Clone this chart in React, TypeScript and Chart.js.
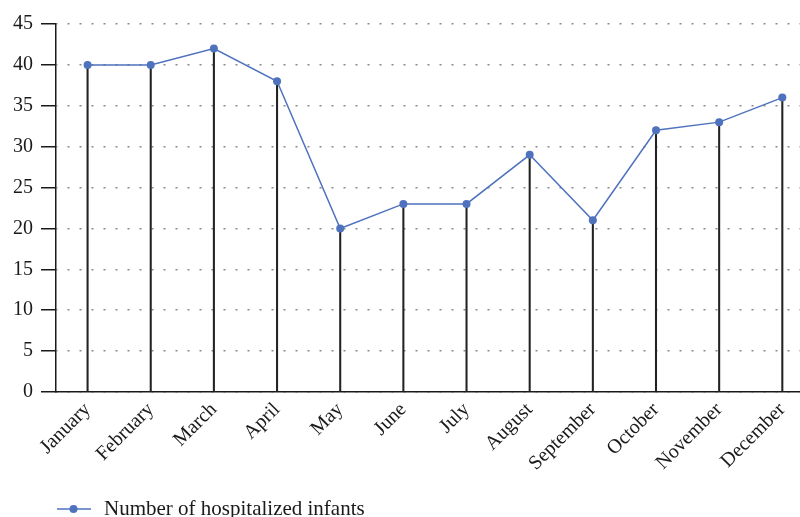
import React, { useEffect, useRef } from "react";
import { Chart, registerables } from "chart.js";

Chart.register(...registerables);

const months = [
  "January",
  "February",
  "March",
  "April",
  "May",
  "June",
  "July",
  "August",
  "September",
  "October",
  "November",
  "December",
];
const infants = [40, 40, 42, 38, 20, 23, 23, 29, 21, 32, 33, 36];
const yTicks = [0, 5, 10, 15, 20, 25, 30, 35, 40, 45];
const seriesLabel = "Number of hospitalized infants";

const FONT = "'Liberation Serif', 'DejaVu Serif', serif";
const BLUE = "#4f72be";
const INK = "#1a1a1a";

export default function App() {
  const ref = useRef<HTMLCanvasElement | null>(null);

  useEffect(() => {
    document.body.style.margin = "0";
    const canvas = ref.current;
    if (!canvas) return;

    const legendPlugin = {
      id: "lineLegend",
      afterDraw(chart: any) {
        const ctx = chart.ctx as CanvasRenderingContext2D;
        const ds = chart.data.datasets[0];
        const y = 509;
        ctx.save();
        ctx.strokeStyle = BLUE;
        ctx.lineWidth = 1.5;
        ctx.beginPath();
        ctx.moveTo(57, y);
        ctx.lineTo(91, y);
        ctx.stroke();
        ctx.fillStyle = BLUE;
        ctx.beginPath();
        ctx.arc(73.5, y, 4, 0, Math.PI * 2);
        ctx.fill();
        ctx.fillStyle = INK;
        ctx.font = `21px ${FONT}`;
        ctx.textBaseline = "alphabetic";
        ctx.textAlign = "left";
        ctx.fillText(ds.label, 104, 515);
        ctx.restore();
      },
    };

    const points = infants.map((v, i) => ({ x: i, y: v }));

    const chart = new Chart(canvas, {
      type: "line",
      data: {
        datasets: [
          {
            type: "line",
            label: seriesLabel,
            data: points,
            borderColor: BLUE,
            backgroundColor: BLUE,
            borderWidth: 1.5,
            pointRadius: 4,
            pointBackgroundColor: BLUE,
            pointBorderWidth: 0,
            order: 1,
          } as any,
          {
            type: "bar",
            label: "drop",
            data: points,
            backgroundColor: "#222",
            barThickness: 1.4,
            order: 2,
          } as any,
        ],
      },
      options: {
        animation: false,
        responsive: true,
        maintainAspectRatio: false,
        layout: { autoPadding: false, padding: { top: 24, left: 0, right: 0, bottom: 30 } },
        plugins: {
          legend: { display: false },
          tooltip: { enabled: false },
        },
        scales: {
          x: {
            type: "linear",
            min: -0.5,
            max: 11.28,
            offset: false,
            afterBuildTicks: (s: any) => {
              s.ticks = months.map((_, i) => ({ value: i }));
            },
            afterFit: (s: any) => {
              s.height = 95;
              s.paddingLeft = 0;
              s.paddingRight = 0;
            },
            ticks: {
              callback: (v: any) => months[v as number] ?? "",
              minRotation: 45,
              maxRotation: 45,
              autoSkip: false,
              font: { family: FONT, size: 20 },
              color: INK,
              padding: 6,
            },
            grid: { display: false, drawTicks: false, tickLength: 0 },
            border: { display: true, color: INK, width: 1.5 },
          },
          y: {
            min: 0,
            max: 45,
            afterBuildTicks: (s: any) => {
              s.ticks = yTicks.map((v) => ({ value: v }));
            },
            afterFit: (s: any) => {
              s.width = 56;
              s.paddingTop = 0;
              s.paddingBottom = 0;
            },
            ticks: {
              font: { family: FONT, size: 20 },
              color: INK,
              padding: 8,
            },
            grid: {
              color: "#8a8a8a",
              lineWidth: 1.5,
              tickLength: 15,
              tickColor: INK,
              tickWidth: 1.5,
            },
            border: {
              display: true,
              color: INK,
              width: 1.5,
              dash: [2, 10],
              dashOffset: 1,
            },
          },
        },
      } as any,
      plugins: [legendPlugin],
    });

    return () => chart.destroy();
  }, []);

  return (
    <div style={{ width: 800, height: 517, position: "relative" }}>
      <canvas ref={ref} />
    </div>
  );
}
